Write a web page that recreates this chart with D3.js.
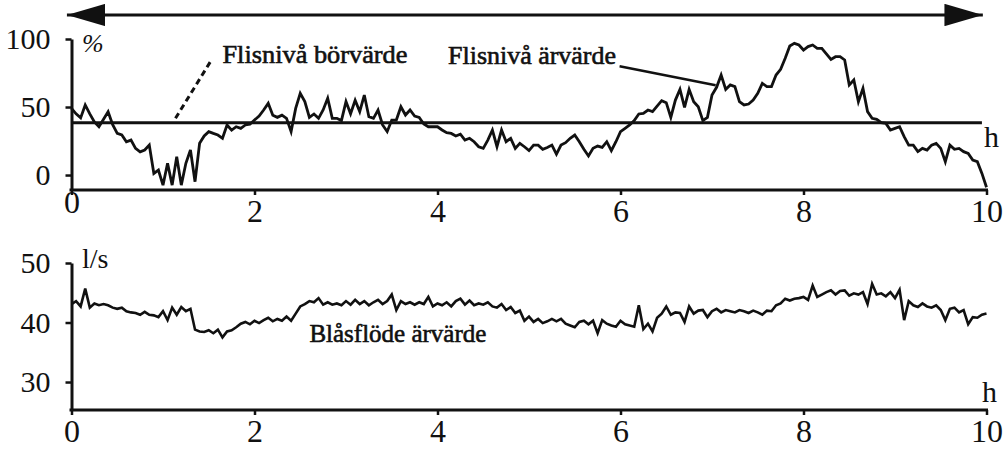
<!DOCTYPE html>
<html>
<head>
<meta charset="utf-8">
<script src="https://cdn.jsdelivr.net/npm/d3@7"></script>
<style>
  html, body { margin: 0; padding: 0; background: #fff; }
  svg { display: block; }
  text { font-family: 'Times New Roman', 'Liberation Serif', Tinos, serif; fill: #111; }
</style>
</head>
<body>
<svg id="chart" width="1007" height="453"></svg>
<script>
// time step between samples (hours)
const STEP = 0.05
const FONT = "'Times New Roman', 'Liberation Serif', Tinos, serif"

const hourTicks = [0, 2, 4, 6, 8, 10]
const levelTicks = [0, 50, 100]
const flowTicks = [30, 40, 50]

// Flisnivå börvärde (%), constant set point
const flisBorvarde = 38.5
const borvardeSpan = [0, 9.95]

// Flisnivå ärvärde (%), one sample per 0.05 h
const flisArvarde = [
  49, 45, 42, 51.5, 45, 39, 35.5, 41, 46.5, 37,
  30.6, 29.4, 24.5, 25.7, 19.6, 17, 18.4, 22, 1.2, 3.7,
  -7.4, 8.6, -7.4, 13.5, -7.4, 8.6, 18.4, -4.9, 23.3, 28.7,
  31.9, 30.6, 29.4, 27, 36.8, 33, 35.5, 34.3, 36.8, 37.3,
  40.4, 43.4, 47.8, 52.7, 44, 42.4, 44, 41.7, 31.9, 49,
  60, 54, 42.4, 44.9, 41.7, 47.8, 56.4, 41.7, 41.7, 40,
  54, 45, 55, 46.6, 58.8, 42.9, 41.7, 47.8, 36.8, 31.9,
  40.4, 40.4, 50.2, 44.1, 47.8, 43.4, 42.4, 37.5, 35.5, 35.5,
  35.5, 33.1, 31.1, 30.6, 28.7, 30.1, 25.7, 27, 24.5, 20.8,
  19.6, 25.7, 33.1, 20.8, 33.1, 24.5, 27, 19.6, 23.3, 20.8,
  18, 22, 22, 18.9, 20.3, 22, 15.4, 22, 23.8, 27,
  29.4, 24.5, 18.9, 14, 19.6, 21.3, 20.3, 24.5, 17.9, 24.5,
  31.9, 34.3, 36.8, 40, 44.9, 45.3, 47.8, 46.6, 50.7, 54.7,
  53.2, 42.4, 55.1, 63, 49.8, 63, 53.9, 50.2, 40, 42.4,
  58.8, 64.5, 73.5, 63, 66.2, 65, 53.9, 51.5, 52.2, 55.1,
  60, 67.4, 65, 65, 73.5, 77.7, 85.8, 94.9, 96.8, 95.6,
  91.9, 94.4, 95.6, 93.1, 93.1, 89, 85, 87, 87, 84.6,
  66.2, 69.9, 53.9, 63.7, 46.6, 41.7, 40.9, 38.5, 38, 33.1,
  34.3, 35.5, 28.2, 22, 22, 17.2, 19.6, 18.4, 22, 23.3,
  19.6, 9.8, 22, 18.9, 19.6, 17.2, 15.9, 11, 9.8, 1.2,
  -9
]

// Blåsflöde ärvärde (l/s), one sample per 0.05 h
const blasflode = [
  43.1, 43.6, 42.7, 45.7, 42.5, 43.2, 42.9, 43.1, 42.9, 42.5,
  42.3, 42.5, 41.9, 41.7, 41.6, 41.3, 41.8, 41.3, 41.2, 40.9,
  41.9, 40.4, 42.5, 41.3, 42.6, 41.9, 42.3, 38.8, 38.5, 38.4,
  38.7, 38.2, 38.8, 37.5, 38.5, 38.7, 39.2, 39.8, 40.1, 39.7,
  40.3, 39.9, 40.4, 40.8, 40.2, 40.6, 40.3, 41, 40.3, 41.5,
  42.7, 43.1, 43.6, 43.4, 44.1, 43, 43.4, 43, 43.2, 42.9,
  43.6, 43, 43.8, 43.1, 43.6, 42.9, 43.4, 43.8, 43.1, 43.6,
  44.7, 42.1, 43.6, 43.1, 43.4, 43, 43.4, 43.1, 44.3, 42.7,
  43.2, 42.9, 43.4, 42.7, 43.6, 44, 43, 43.7, 42.9, 43.2,
  43, 43.4, 42.7, 42.5, 43.1, 42.1, 42.6, 41.6, 42, 40.3,
  41, 40.1, 40.6, 39.9, 40.2, 40.6, 40.2, 40.6, 39.8, 39.5,
  39.2, 40.1, 40.3, 39.7, 40.3, 38.2, 40.4, 39.8, 39.5, 39.3,
  40.3, 39.7, 39.5, 39.3, 42.9, 38.9, 39.8, 38.5, 40.8, 41.5,
  42.7, 41.3, 41.7, 41.6, 40.1, 42.7, 41.5, 42, 42.1, 40.9,
  41.9, 42.3, 41.7, 42.1, 41.9, 41.7, 42.1, 41.9, 41.6, 42,
  41.7, 41.3, 42, 41.9, 42.9, 43.2, 44, 43.7, 44, 44.1,
  44.3, 43.8, 46.2, 44.3, 44.7, 45.1, 45.4, 44.7, 45.3, 45.4,
  44.5, 44.9, 44.7, 45.1, 43.1, 46.5, 44.7, 44.9, 44.4, 45.1,
  44.1, 45.5, 40.4, 43.6, 42.9, 42.6, 43.2, 42.7, 42.5, 42.9,
  42.1, 40.4, 42.3, 42.5, 41.7, 42.1, 39.7, 40.9, 40.8, 41.3,
  41.5
]

const svg = d3.select('#chart')

const x = d3.scaleLinear().domain([0, 10]).range([71.5, 986.5])
const yTop = d3.scaleLinear().domain([-11, 100]).range([190, 39])
const yBot = d3.scaleLinear().domain([25.3, 50]).range([410, 263])

const toPoints = (values) => values.map((v, i) => [i * STEP, v])

// top arrow spanning the time range
const defs = svg.append('defs')
defs.append('marker')
  .attr('id', 'head')
  .attr('viewBox', '0 0 12 7')
  .attr('refX', 12)
  .attr('refY', 3.5)
  .attr('markerWidth', 12)
  .attr('markerHeight', 7)
  .attr('markerUnits', 'strokeWidth')
  .attr('orient', 'auto-start-reverse')
  .append('path')
  .attr('d', 'M0,0 L12,3.5 L0,7 Z')
  .attr('fill', '#111')

svg.append('line')
  .attr('x1', x(-0.05))
  .attr('x2', x(9.96))
  .attr('y1', 15)
  .attr('y2', 15)
  .attr('stroke', '#111')
  .attr('stroke-width', 3.2)
  .attr('marker-start', 'url(#head)')
  .attr('marker-end', 'url(#head)')

const styleAxis = (g, fontSize) => {
  g.select('.domain').attr('stroke', '#111').attr('stroke-width', 3)
  g.selectAll('.tick line').attr('stroke', '#111').attr('stroke-width', 2.5)
  g.selectAll('.tick text')
    .attr('fill', '#111')
    .style('font-family', FONT)
    .style('font-size', fontSize + 'px')
}

const drawPanel = (y, yTicks, axisY) => {
  const gx = svg.append('g')
    .attr('transform', `translate(0,${axisY})`)
    .call(d3.axisBottom(x).tickValues(hourTicks).tickSize(5).tickSizeOuter(0).tickPadding(4))
  styleAxis(gx, 32)
  gx.select('.domain').attr('d', `M${x(0) - 2},0H${x(10) + 1.5}`)

  const gy = svg.append('g')
    .attr('transform', `translate(${x(0)},0)`)
    .call(d3.axisLeft(y).tickValues(yTicks).tickSize(6).tickSizeOuter(0).tickPadding(15))
  styleAxis(gy, 30)
  return { gx, gy }
}

// top panel: chip level
const levelPanel = drawPanel(yTop, levelTicks, yTop(-11))
levelPanel.gx.selectAll('.tick text').filter((d) => d === 0).attr('y', 0)

svg.append('line')
  .attr('x1', x(borvardeSpan[0]))
  .attr('x2', x(borvardeSpan[1]))
  .attr('y1', yTop(flisBorvarde))
  .attr('y2', yTop(flisBorvarde))
  .attr('stroke', '#111')
  .attr('stroke-width', 3)

const lineTop = d3.line().x((d) => x(d[0])).y((d) => yTop(d[1]))
svg.append('path')
  .datum(toPoints(flisArvarde))
  .attr('d', lineTop)
  .attr('fill', 'none')
  .attr('stroke', '#111')
  .attr('stroke-width', 2.8)
  .attr('stroke-linejoin', 'miter')

// bottom panel: blow flow
drawPanel(yBot, flowTicks, yBot(25.3))

const lineBot = d3.line().x((d) => x(d[0])).y((d) => yBot(d[1]))
svg.append('path')
  .datum(toPoints(blasflode))
  .attr('d', lineBot)
  .attr('fill', 'none')
  .attr('stroke', '#111')
  .attr('stroke-width', 2.6)

// unit labels
const label = (text, px, py, size, extra) => {
  const t = svg.append('text')
    .attr('x', px)
    .attr('y', py)
    .style('font-family', FONT)
    .style('font-size', size + 'px')
    .text(text)
  if (extra) extra(t)
  return t
}

label('%', 82, 52, 26, (t) => t.style('font-style', 'italic'))
label('h', 984, 147, 30)
label('l/s', 82, 268, 28)
label('h', 982, 402, 30)

// annotations
const annotation = (text, h, v, scale, width) => {
  return label(text, x(h), scale(v), 25, (t) => {
    t.attr('textLength', width)
      .attr('lengthAdjust', 'spacingAndGlyphs')
      .attr('stroke', '#111')
      .attr('stroke-width', 0.6)
  })
}

annotation('Flisnivå börvärde', 1.65, 82.5, yTop, 185)
annotation('Flisnivå ärvärde', 4.115, 81.5, yTop, 168)
annotation('Blåsflöde ärvärde', 2.6, 36.7, yBot, 177)

svg.append('line')
  .attr('x1', x(1.515))
  .attr('y1', yTop(83))
  .attr('x2', x(1.13))
  .attr('y2', yTop(41))
  .attr('stroke', '#111')
  .attr('stroke-width', 3)
  .attr('stroke-dasharray', '6,4')

svg.append('line')
  .attr('x1', x(5.99))
  .attr('y1', yTop(80))
  .attr('x2', x(7.04))
  .attr('y2', yTop(66))
  .attr('stroke', '#111')
  .attr('stroke-width', 2.4)
</script>
</body>
</html>
